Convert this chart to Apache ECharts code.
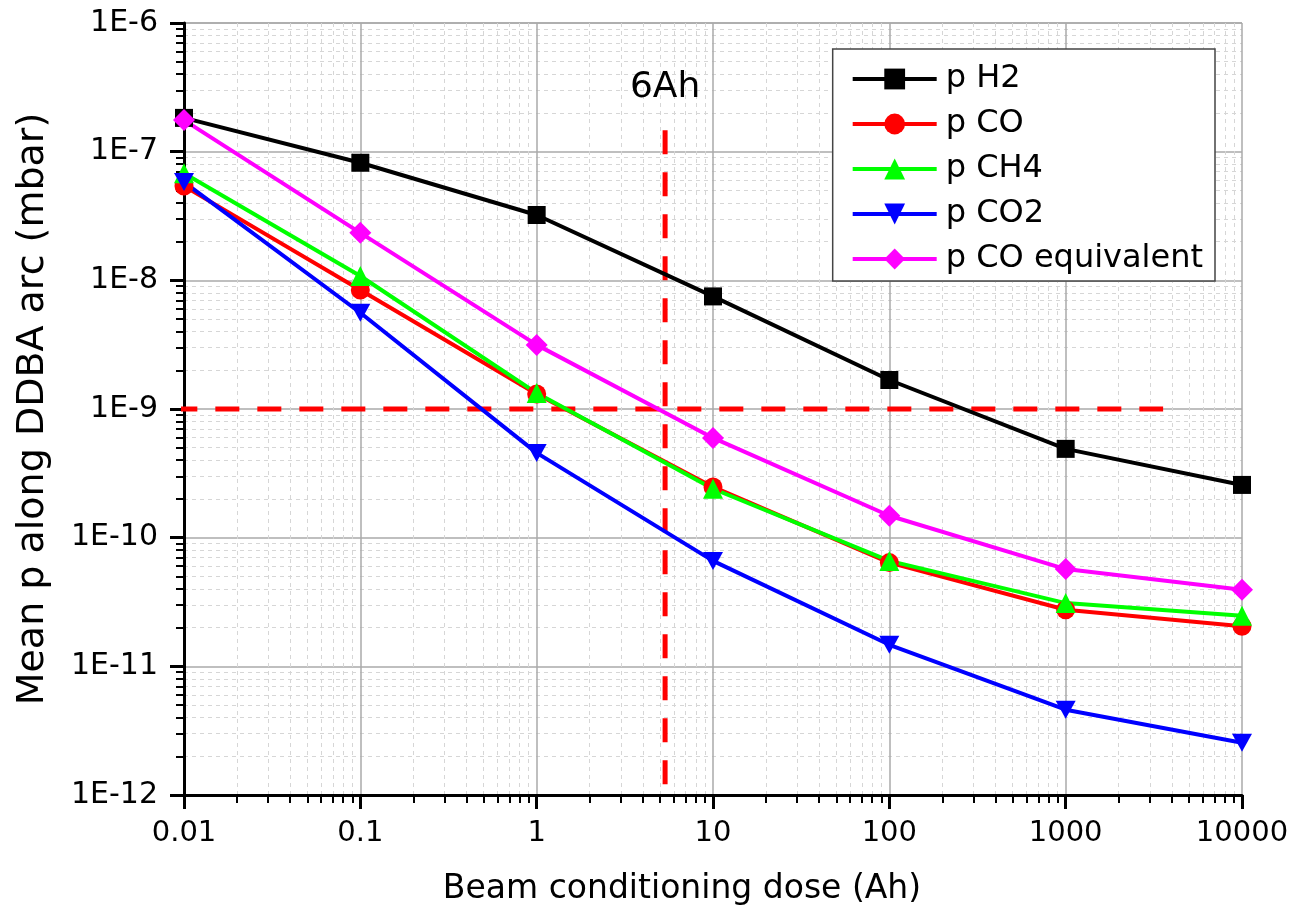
<!DOCTYPE html>
<html>
<head>
  <meta charset="utf-8">
  <title>Mean p along DDBA arc</title>
  <script src="https://cdn.jsdelivr.net/npm/echarts/dist/echarts.min.js"></script>
  <style>
    html, body { margin: 0; padding: 0; background: #fff; }
    #main { width: 1303px; height: 920px; }
  </style>
</head>
<body>
<div id="main"></div>
<script>
  // dose (Ah)
  const dose = [0.01, 0.1, 1, 10, 100, 1000, 10000];

  const pH2    = [1.83e-7, 8.2e-8, 3.22e-8, 7.5e-9, 1.68e-9, 4.9e-10, 2.57e-10];
  const pCO    = [5.4e-8, 8.4e-9, 1.31e-9, 2.48e-10, 6.4e-11, 2.75e-11, 2.05e-11];
  const pCH4   = [6.8e-8, 1.08e-8, 1.33e-9, 2.4e-10, 6.6e-11, 3.1e-11, 2.47e-11];
  const pCO2   = [5.8e-8, 5.6e-9, 4.56e-10, 6.6e-11, 1.47e-11, 4.6e-12, 2.55e-12];
  const pCOeq  = [1.76e-7, 2.34e-8, 3.15e-9, 5.96e-10, 1.48e-10, 5.7e-11, 3.93e-11];

  // red dashed guide lines
  const hLine = [[0.0087, 1e-9], [3570, 1e-9]];
  const vLine = [[5.35, 1.47e-7], [5.35, 1e-12]];
  const vLabel = '6Ah';

  const names = ['p H2', 'p CO', 'p CH4', 'p CO2', 'p CO equivalent'];
  const colors = ['#000000', '#ff0000', '#00ff00', '#0000ff', '#ff00ff'];
  const symbols = ['rect', 'circle', 'triangle', 'path://M0,0 L10,0 L5,10 Z', 'diamond'];
  const symbolSizes = [18, 19, 20, [20, 18], 22];
  const values = [pH2, pCO, pCH4, pCO2, pCOeq];

  const font = 'DejaVu Sans, Verdana, sans-serif';

  const series = names.map(function (n, i) {
    return {
      name: n,
      type: 'line',
      data: dose.map(function (d, j) { return [d, values[i][j]]; }),
      symbol: symbols[i],
      symbolSize: symbolSizes[i],
      showAllSymbol: true,
      lineStyle: { color: colors[i], width: 4 },
      itemStyle: { color: colors[i] },
      z: 5
    };
  });

  series.push({
    type: 'line',
    data: hLine,
    symbol: 'none',
    clip: false,
    lineStyle: { color: '#ff0000', width: 5, type: [24, 18] },
    silent: true,
    z: 3
  });
  series.push({
    type: 'line',
    data: vLine,
    symbol: 'none',
    lineStyle: { color: '#ff0000', width: 5, type: [24, 18] },
    silent: true,
    z: 3
  });
  // text above the vertical guide line
  series.push({
    type: 'scatter',
    data: [vLine[0]],
    symbol: 'circle',
    symbolSize: 0,
    itemStyle: { color: '#000' },
    silent: true,
    z: 6,
    label: {
      show: true,
      position: 'top',
      distance: 24,
      fontSize: 36,
      fontFamily: font,
      color: '#000',
      opacity: 1,
      formatter: vLabel
    }
  });

  const chart = echarts.init(document.getElementById('main'));
  chart.setOption({
    animation: false,
    backgroundColor: '#fff',
    grid: { left: 184, right: 61, top: 23, bottom: 125 },
    legend: {
      data: names,
      orient: 'vertical',
      right: 88,
      top: 49,
      padding: [14, 12, 6, 18],
      itemGap: 13,
      itemWidth: 84,
      itemHeight: 26,
      lineStyle: { width: 4 },
      backgroundColor: '#fff',
      borderColor: '#444',
      borderWidth: 1.5,
      borderRadius: 0,
      textStyle: { fontSize: 32, lineHeight: 30, fontFamily: font, color: '#000', padding: [0, 0, 0, 4] }
    },
    xAxis: {
      type: 'log',
      logBase: 10,
      min: 0.01,
      max: 10000,
      name: 'Beam conditioning dose (Ah)',
      nameLocation: 'middle',
      nameGap: 78,
      nameTextStyle: { fontSize: 33, fontFamily: font, color: '#000', padding: [0, 62, 0, 0] },
      axisLine: { lineStyle: { color: '#000', width: 3 } },
      axisTick: { inside: false, length: 14, lineStyle: { color: '#000', width: 3 } },
      minorTick: { show: true, splitNumber: 9, length: 8, lineStyle: { color: '#000', width: 2 } },
      axisLabel: {
        fontSize: 29, fontFamily: font, color: '#000', margin: 24,
        formatter: function (v) {
          return v < 1 ? v.toFixed(Math.round(-Math.log10(v))) : String(Math.round(v));
        }
      },
      splitLine: { show: true, lineStyle: { color: '#aaa', width: 1.5 } },
      minorSplitLine: { show: true, lineStyle: { color: '#d6d6d6', width: 1, type: [4, 4] } }
    },
    yAxis: {
      type: 'log',
      logBase: 10,
      min: 1e-12,
      max: 1e-6,
      name: 'Mean p along DDBA arc (mbar)',
      nameLocation: 'middle',
      nameGap: 132,
      nameTextStyle: { fontSize: 38, fontFamily: font, color: '#000' },
      axisLine: { show: true, lineStyle: { color: '#000', width: 3 } },
      axisTick: { show: true, inside: false, length: 14, lineStyle: { color: '#000', width: 3 } },
      minorTick: { show: true, splitNumber: 9, length: 8, lineStyle: { color: '#000', width: 2 } },
      axisLabel: {
        fontSize: 30, fontFamily: font, color: '#000', margin: 26,
        formatter: function (v) { return '1E' + Math.round(Math.log10(v)); }
      },
      splitLine: { show: true, lineStyle: { color: '#aaa', width: 1.5 } },
      minorSplitLine: { show: true, lineStyle: { color: '#d6d6d6', width: 1, type: [4, 4] } }
    },
    series: series
  });
</script>
</body>
</html>
